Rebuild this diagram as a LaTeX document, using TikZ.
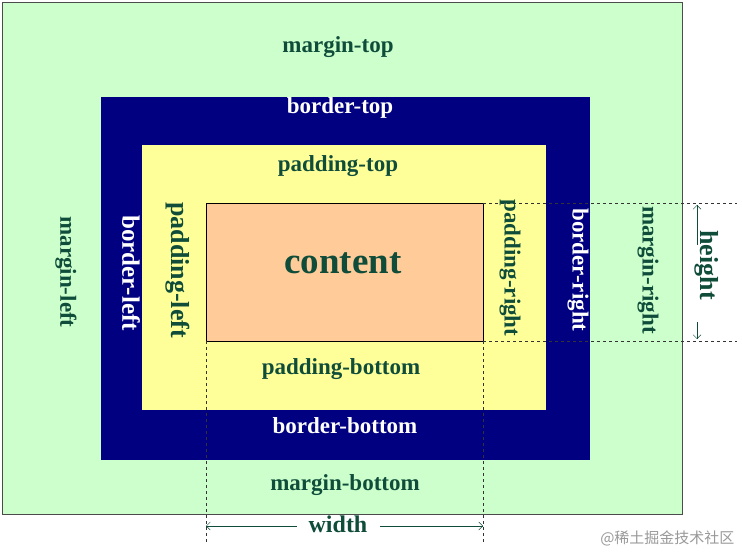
\documentclass[tikz,border=0pt]{standalone}
\usepackage{fontspec}
\setmainfont{Liberation Serif}
\newfontfamily\cjk{Noto Sans CJK SC}
\usetikzlibrary{arrows.meta}
\definecolor{mg}{HTML}{CCFFCC}
\definecolor{bd}{HTML}{000080}
\definecolor{pd}{HTML}{FFFF99}
\definecolor{ct}{HTML}{FFCC99}
\definecolor{tx}{HTML}{0F4D3A}
\tikzset{
 lbl/.style={font=\bfseries\fontsize{23}{25}\selectfont, text=tx, inner sep=1pt},
 wlbl/.style={lbl, text=white},
 dim/.style={draw=black!80, dashed, dash pattern=on 3pt off 3pt, thin},
 arr/.style={draw=tx, -{Straight Barb[length=4pt]}, thin}
}
\begin{document}
\begin{tikzpicture}[x=1pt,y=-1pt]
\useasboundingbox (0,0) rectangle (742,559);
\fill[white] (0,0) rectangle (742,559);
\draw[fill=mg, draw=black!70] (2,2) rectangle (682,514);
\fill[bd] (101,97) rectangle (590,460);
\fill[pd] (142,145) rectangle (546,410);
\draw[fill=ct, draw=black] (206,203) rectangle (483,341);
\coordinate (c1) at (206,203); \coordinate (c2) at (483,203);
\coordinate (c3) at (483,341); \coordinate (c4) at (206,341);
\coordinate (r1) at (737,203); \coordinate (r2) at (737,341);
\coordinate (b1) at (206,542); \coordinate (b2) at (483,542);
\draw[dim] (c2) -- (r1); \draw[dim] (c3) -- (r2);
\draw[dim] (c4) -- (b1); \draw[dim] (c3) -- (b2);
\node[lbl] (mt) at (338,47) {margin-top};
\node[wlbl] (bt) at (340,108) {border-top};
\node[lbl] (pt) at (338,166) {padding-top};
\node[lbl, font=\bfseries\fontsize{37}{40}\selectfont] (ct) at (343,263) {content};
\node[lbl] (pb) at (341,369) {padding-bottom};
\node[wlbl] (bb) at (345,426) {border-bottom};
\node[lbl] (mb) at (345,485) {margin-bottom};
\node[lbl, rotate=-90] (ml) at (66,272) {margin-left};
\node[wlbl, rotate=-90, font=\bfseries\fontsize{25}{27}\selectfont] (bl) at (131,273) {border-left};
\node[lbl, rotate=-90, font=\bfseries\fontsize{26}{28}\selectfont] (pl) at (178,270) {padding-left};
\node[lbl, rotate=-90] (pr) at (510,268) {padding-right};
\node[wlbl, rotate=-90] (br) at (578,270) {border-right};
\node[lbl, rotate=-90] (mr) at (648,270) {margin-right};
\node[lbl, rotate=-90, font=\bfseries\fontsize{26}{28}\selectfont] (h) at (707,265) {height};
\node[lbl, font=\bfseries\fontsize{24}{26}\selectfont] (w) at (338,524) {width};
\coordinate (wl) at (206,526); \coordinate (wr) at (483,526);
\coordinate (ht) at (697,205); \coordinate (hb) at (697,339);
\draw[arr] (297,526) -- (wl);
\draw[arr] (380,526) -- (wr);
\draw[arr] (697,245) -- (ht);
\draw[arr] (697,322) -- (hb);
\node[text=black!40, font=\cjk\fontsize{15}{17}\selectfont, anchor=east] (wm) at (738,538) {@稀土掘金技术社区};
\end{tikzpicture}
\end{document}
